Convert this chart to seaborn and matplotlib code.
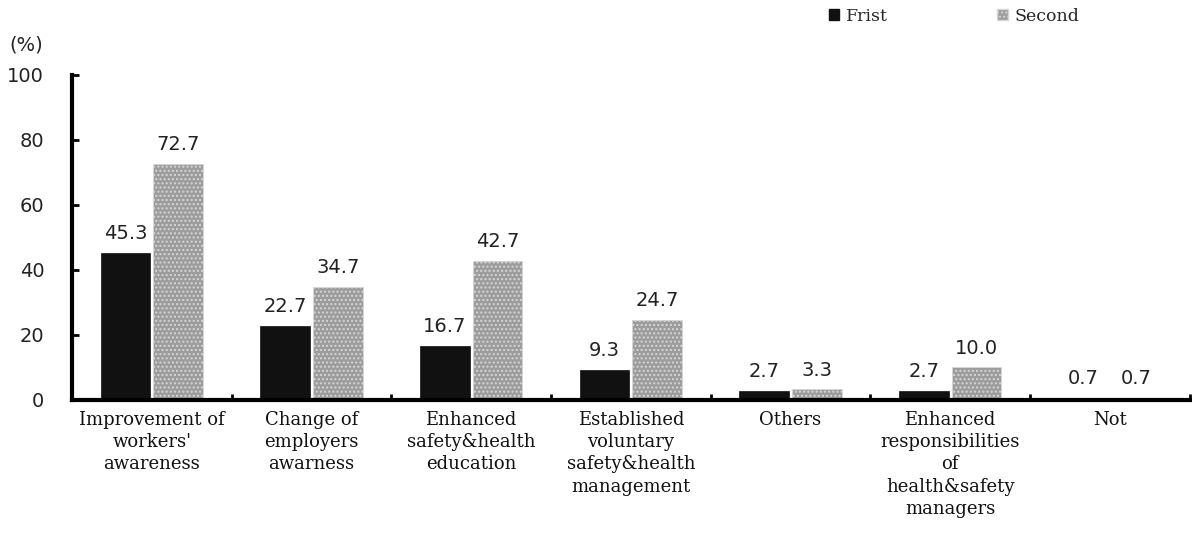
import matplotlib
matplotlib.use("Agg")
import matplotlib.pyplot as plt
import seaborn as sns
import pandas as pd
from matplotlib.patches import Patch

categories = [
    "Improvement of\nworkers'\nawareness",
    "Change of\nemployers\nawarness",
    "Enhanced\nsafety&health\neducation",
    "Established\nvoluntary\nsafety&health\nmanagement",
    "Others",
    "Enhanced\nresponsibilities\nof\nhealth&safety\nmanagers",
    "Not",
]
first = [45.3, 22.7, 16.7, 9.3, 2.7, 2.7, 0.7]
second = [72.7, 34.7, 42.7, 24.7, 3.3, 10.0, 0.7]
series = ["Frist", "Second"]
yticks = [0, 20, 40, 60, 80, 100]

df = pd.DataFrame({
    "category": categories * 2,
    "value": first + second,
    "series": [series[0]] * len(categories) + [series[1]] * len(categories),
})

sns.set_theme(style="white")
plt.rcParams["font.family"] = ["DejaVu Sans"]

fig = plt.figure(figsize=(11.92, 5.34), dpi=100)
ax = fig.add_axes([0.0604, 0.251, 0.9376, 0.6086])

colors = {"Frist": "#111111", "Second": "#9c9c9c"}
sns.barplot(data=df, x="category", y="value", hue="series", order=categories,
            hue_order=series, palette=colors, width=0.66, gap=0.06,
            ax=ax, legend=False, saturation=1)

for bar in ax.containers[0]:
    bar.set_edgecolor("#111111")
    bar.set_linewidth(0.5)
for bar in ax.containers[1]:
    bar.set_hatch("....")
    bar.set_edgecolor("#d6d6d6")
    bar.set_linewidth(0.6)

for cont in ax.containers:
    labels = [f"{v:.1f}" for v in cont.datavalues]
    ax.bar_label(cont, labels=labels, padding=7, fontsize=14, color="#222222")

ax.set_ylim(0, 100)
ax.set_xlim(-0.5, len(categories) - 0.5)
ax.set_yticks(yticks)
ax.set_yticklabels([str(t) for t in yticks], fontsize=14, color="#222222")
ax.set_xticks(range(len(categories)))
ax.set_xticklabels(categories, fontsize=13, family="DejaVu Serif", linespacing=1.3,
                   color="#111111")
ax.set_xticks([i + 0.5 for i in range(-1, len(categories))], minor=True)
ax.tick_params(axis="x", which="major", length=0, pad=8)
ax.tick_params(axis="x", which="minor", direction="in", length=4, width=2, color="black", bottom=True)
ax.tick_params(axis="y", direction="in", length=5, width=2, color="black", left=True, pad=20)
ax.set_xlabel("")
ax.set_ylabel("")

for s in ["top", "right"]:
    ax.spines[s].set_visible(False)
for s in ["left", "bottom"]:
    ax.spines[s].set_visible(True)
    ax.spines[s].set_color("black")
    ax.spines[s].set_linewidth(3)

fig.text(0.008, 0.915, "(%)", fontsize=14, color="#222222", ha="left", va="center")

handles = [Patch(facecolor="#111111", edgecolor="#111111"),
           Patch(facecolor="#9c9c9c", edgecolor="#d6d6d6", hatch="....")]
fig.legend(handles, series, loc="upper left", bbox_to_anchor=(0.682, 1.015), ncol=2,
           frameon=False, prop={"family": "DejaVu Serif", "size": 12.5},
           handlelength=0.6, handleheight=0.6, handletextpad=0.4, columnspacing=6.3)

fig.savefig("out.png", dpi=100)
